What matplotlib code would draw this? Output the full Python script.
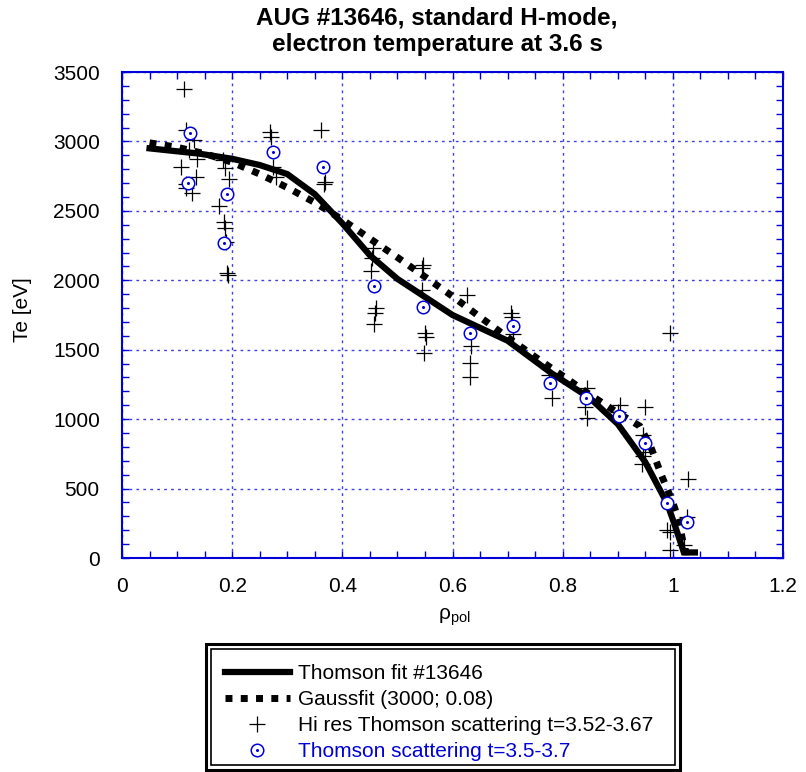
import matplotlib
matplotlib.use("Agg")
import matplotlib.pyplot as plt
from matplotlib.lines import Line2D
from matplotlib.patches import Rectangle
from matplotlib.legend_handler import HandlerTuple
from matplotlib.ticker import MultipleLocator, FuncFormatter

plt.rcParams['font.family'] = ['Liberation Sans', 'DejaVu Sans']
plt.rcParams['mathtext.fontset'] = 'custom'
plt.rcParams['mathtext.rm'] = 'Liberation Sans'
plt.rcParams['mathtext.it'] = 'Liberation Sans'

BLUE = '#0000d8'

# Thomson fit #13646 (solid line)
fit_rho = [0.05, 0.14, 0.2, 0.25, 0.3, 0.35, 0.4, 0.45, 0.5, 0.6, 0.7, 0.78,
           0.85, 0.9, 0.95, 0.99, 1.005, 1.02, 1.04]
fit_te = [2950, 2912, 2875, 2830, 2765, 2620, 2410, 2180, 2010, 1750, 1565, 1330,
          1150, 965, 690, 390, 220, 40, 40]

# Gaussfit (3000; 0.08)
gauss_rho = [0.05, 0.1, 0.15, 0.2, 0.25, 0.3, 0.35, 0.4, 0.45, 0.5, 0.55, 0.6,
             0.65, 0.7, 0.75, 0.8, 0.85, 0.9, 0.94, 0.96, 0.98, 1.0, 1.01, 1.022, 1.04]
gauss_te = [2990, 2958, 2912, 2850, 2765, 2668, 2560, 2436, 2300, 2165, 2025, 1885,
            1735, 1590, 1448, 1312, 1175, 1045, 950, 800, 590, 400, 280, 45, 45]

# Hi res Thomson scattering t=3.52-3.67
hires_rho = [0.113, 0.116, 0.131, 0.122, 0.137, 0.108, 0.134, 0.117, 0.127, 0.117,
             0.184, 0.187, 0.195, 0.177, 0.185, 0.187, 0.189, 0.190, 0.192,
             0.269, 0.270, 0.275, 0.280, 0.361, 0.369, 0.367,
             0.456, 0.453, 0.452, 0.461, 0.459, 0.457,
             0.546, 0.544, 0.544, 0.550, 0.552, 0.548,
             0.627, 0.634, 0.632, 0.631,
             0.706, 0.708, 0.709, 0.776, 0.780, 0.844, 0.841, 0.845,
             0.994, 0.904, 0.901, 0.950, 0.946, 0.950, 0.946, 0.944,
             1.028, 0.990, 0.994, 1.020, 0.994, 1.025]
hires_te = [3378, 3082, 3010, 2938, 2871, 2818, 2746, 2663, 2631, 2693,
            2866, 2806, 2730, 2537, 2418, 2375, 2278, 2050, 2040,
            3070, 3030, 2818, 2746, 3082, 2710, 2690,
            2230, 2158, 2069, 1798, 1762, 1685,
            2110, 2090, 1930, 1618, 1594, 1478,
            1894, 1529, 1402, 1306,
            1762, 1738, 1613, 1318, 1150, 1222, 1090, 1006,
            1618, 1102, 1054, 1085, 886, 766, 735, 677,
            567, 202, 190, 94, 58, 297]

# Thomson scattering t=3.5-3.7
ts_rho = [0.123, 0.119, 0.274, 0.190, 0.186, 0.365, 0.458, 0.547, 0.631, 0.709,
          0.777, 0.842, 0.903, 0.950, 0.990, 1.025]
ts_te = [3058, 2703, 2926, 2619, 2271, 2814, 1959, 1810, 1618, 1671,
         1258, 1150, 1023, 830, 394, 257]

GAUSS_STYLE = dict(color='black', lw=5, linestyle=(0, (1.0, 1.2)), dash_capstyle='butt')
HIRES_STYLE = dict(linestyle='none', marker='+', color='black', markersize=11, markeredgewidth=0.9)
TS_STYLE = dict(linestyle='none', marker='o', markerfacecolor='white', markeredgecolor=BLUE,
                markersize=9, markeredgewidth=1.1)
DOT_STYLE = dict(linestyle='none', marker='o', color=BLUE, markersize=1.2)

fig = plt.figure(figsize=(8.06, 7.72), dpi=100)
ax = fig.add_axes([122 / 806, 1 - 558 / 772, (783 - 122) / 806, (558 - 72) / 772])

ax.plot(fit_rho, fit_te, color='black', lw=4.5, solid_joinstyle='miter', zorder=3)
ax.plot(gauss_rho, gauss_te, zorder=3, **GAUSS_STYLE)
ax.plot(hires_rho, hires_te, zorder=4, **HIRES_STYLE)
ax.plot(ts_rho, ts_te, zorder=5, **TS_STYLE)
ax.plot(ts_rho, ts_te, zorder=6, **DOT_STYLE)

ax.set_xlim(0, 1.2)
ax.set_ylim(0, 3500)
ax.xaxis.set_major_locator(MultipleLocator(0.2))
ax.xaxis.set_minor_locator(MultipleLocator(0.05))
ax.yaxis.set_major_locator(MultipleLocator(500))
ax.yaxis.set_minor_locator(MultipleLocator(100))
ax.xaxis.set_major_formatter(FuncFormatter(lambda v, p: '%g' % round(v, 3)))
ax.tick_params(which='both', direction='in', top=True, right=True, color=BLUE,
               labelsize=15, labelcolor='black')
ax.tick_params(which='major', length=5, width=1)
ax.tick_params(which='minor', length=5, width=1)
ax.tick_params(axis='x', which='major', pad=14)
ax.tick_params(axis='y', which='major', pad=16)
for s in ax.spines.values():
    s.set_color(BLUE)
    s.set_linewidth(1.5)
ax.grid(True, which='major', color=BLUE, alpha=0.75, linestyle=(0, (2, 3)), linewidth=1)

ax.set_xlabel('ρ$_{\\rm pol}$', fontsize=15)
ax.xaxis.set_label_coords((454 - 122) / 661, -(607 - 558) / 486)
ax.set_ylabel('Te [eV]', fontsize=15)
ax.yaxis.set_label_coords((32 - 122) / 661, (558 - 310) / 486)

fig.text(437 / 806, 1 - 31 / 772, 'AUG #13646, standard H-mode,\nelectron temperature at 3.6 s',
         ha='center', va='center', fontsize=17.5, fontweight='bold', linespacing=1.2)

h_fit = Line2D([], [], color='black', lw=4.5)
h_gauss = Line2D([], [], **GAUSS_STYLE)
h_hires = Line2D([], [], **HIRES_STYLE)
h_ts = Line2D([], [], **TS_STYLE)
h_dot = Line2D([], [], **DOT_STYLE)
leg = fig.legend([h_fit, h_gauss, h_hires, (h_ts, h_dot)],
                 ['Thomson fit #13646', 'Gaussfit (3000; 0.08)',
                  'Hi res Thomson scattering t=3.52-3.67', 'Thomson scattering t=3.5-3.7'],
                 handler_map={tuple: HandlerTuple(ndivide=1)},
                 loc='upper left', bbox_to_anchor=(225 / 806, 1 - 664 / 772),
                 frameon=False, fontsize=15, handlelength=3.1, handletextpad=0.4,
                 labelspacing=0.34, borderpad=0, borderaxespad=0, numpoints=1)
leg.get_texts()[3].set_color(BLUE)

fig.patches.append(Rectangle((206 / 806, 1 - 770 / 772), (680 - 206) / 806, (770 - 644) / 772,
                             transform=fig.transFigure, fill=False, lw=2.2, ec='black'))
fig.patches.append(Rectangle((211 / 806, 1 - 765 / 772), (675 - 211) / 806, (765 - 649) / 772,
                             transform=fig.transFigure, fill=False, lw=1.2, ec='black'))

fig.savefig('out.png', dpi=100)
